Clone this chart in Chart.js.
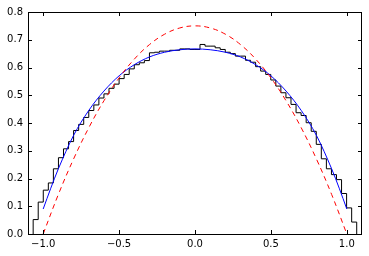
<!DOCTYPE html>
<html>
<head>
<meta charset="utf-8">
<script src="https://cdn.jsdelivr.net/npm/chart.js@4/dist/chart.umd.min.js"></script>
<style>
  body { margin: 0; background: #fff; }
</style>
</head>
<body>
<canvas id="chart" width="369" height="256"></canvas>
<script>
// axis ticks
const xTicks = [-1.0, -0.5, 0.0, 0.5, 1.0];
const yTicks = [0.0, 0.1, 0.2, 0.3, 0.4, 0.5, 0.6, 0.7, 0.8];

// histogram (black steps): first bin edge, bin width, heights
const histStart = -1.066;
const histBinWidth = 0.0333;
const histHeights = [
    0.052, 0.115, 0.158, 0.184, 0.235, 0.275, 0.307, 0.333, 0.373, 0.395,
    0.420, 0.445, 0.465, 0.490, 0.505, 0.525, 0.540, 0.560, 0.575, 0.595,
    0.610, 0.617, 0.625, 0.653, 0.655, 0.659, 0.659, 0.662, 0.662, 0.667,
    0.667, 0.665, 0.665, 0.683, 0.677, 0.677, 0.671, 0.665, 0.655, 0.650,
    0.641, 0.641, 0.626, 0.619, 0.603, 0.587, 0.575, 0.555, 0.533, 0.509,
    0.491, 0.467, 0.437, 0.427, 0.401, 0.370, 0.323, 0.271, 0.235, 0.214,
    0.196, 0.146, 0.094, 0.043
];

// smooth blue curve
const curveX = [-1.0, -0.95, -0.9, -0.8, -0.7, -0.6, -0.5, -0.4, -0.3, -0.2, -0.1, 0.0,
                0.1, 0.2, 0.3, 0.4, 0.5, 0.6, 0.7, 0.8, 0.9, 0.95, 1.0];
const curveY = [0.090, 0.165, 0.235, 0.355, 0.445, 0.515, 0.570, 0.610, 0.638, 0.655, 0.664, 0.667,
                0.664, 0.655, 0.638, 0.610, 0.570, 0.515, 0.445, 0.355, 0.235, 0.165, 0.090];

// red dashed parabola
const parabolaX = [-1.0, -0.9, -0.8, -0.7, -0.6, -0.5, -0.4, -0.3, -0.2, -0.1, 0.0,
                   0.1, 0.2, 0.3, 0.4, 0.5, 0.6, 0.7, 0.8, 0.9, 1.0];
const parabolaY = [0.0, 0.1425, 0.27, 0.3825, 0.48, 0.5625, 0.63, 0.6825, 0.72, 0.7425, 0.75,
                   0.7425, 0.72, 0.6825, 0.63, 0.5625, 0.48, 0.3825, 0.27, 0.1425, 0.0];

// step outline of the histogram, closed down to zero on both ends
const histPoints = [{ x: histStart, y: 0 }];
histHeights.forEach((h, i) => {
    histPoints.push({ x: histStart + i * histBinWidth, y: h });
});
const histEnd = histStart + histHeights.length * histBinWidth;
histPoints.push({ x: histEnd, y: histHeights[histHeights.length - 1] });
histPoints.push({ x: histEnd, y: 0 });

const fmt = v => (v < 0 ? '\u2212' : '') + Math.abs(v).toFixed(1);

// matplotlib-like box with inward ticks
const framePlugin = {
    id: 'frame',
    afterDatasetsDraw(chart) {
        const { ctx, chartArea: a, scales: { x, y } } = chart;
        ctx.save();
        ctx.strokeStyle = '#000';
        ctx.lineWidth = 1;
        ctx.beginPath();
        xTicks.forEach(v => {
            const px = Math.round(x.getPixelForValue(v)) + 0.5;
            ctx.moveTo(px, a.bottom); ctx.lineTo(px, a.bottom - 4);
            ctx.moveTo(px, a.top); ctx.lineTo(px, a.top + 4);
        });
        yTicks.forEach(v => {
            const py = Math.round(y.getPixelForValue(v)) + 0.5;
            ctx.moveTo(a.left, py); ctx.lineTo(a.left + 4, py);
            ctx.moveTo(a.right, py); ctx.lineTo(a.right - 4, py);
        });
        ctx.stroke();
        ctx.strokeRect(Math.round(a.left) + 0.5, Math.round(a.top) + 0.5,
                       Math.round(a.right - a.left) - 1, Math.round(a.bottom - a.top));
        ctx.restore();
    }
};

const tickFont = { family: '"DejaVu Sans", sans-serif', size: 10 };

new Chart(document.getElementById('chart'), {
    type: 'line',
    data: {
        datasets: [
            {
                data: parabolaX.map((x, i) => ({ x, y: parabolaY[i] })),
                borderColor: '#ff0000',
                borderWidth: 1,
                borderDash: [5, 4],
                pointRadius: 0,
                tension: 0.4,
                order: 0
            },
            {
                data: curveX.map((x, i) => ({ x, y: curveY[i] })),
                borderColor: '#0000ff',
                borderWidth: 1,
                pointRadius: 0,
                cubicInterpolationMode: 'monotone',
                order: 1
            },
            {
                data: histPoints,
                borderColor: '#000000',
                borderWidth: 1,
                pointRadius: 0,
                stepped: true,
                order: 2
            }
        ]
    },
    options: {
        responsive: false,
        animation: false,
        devicePixelRatio: 1,
        layout: { padding: { top: 12, right: 7, left: 0, bottom: 0 } },
        plugins: { legend: { display: false }, tooltip: { enabled: false } },
        scales: {
            x: {
                type: 'linear',
                min: -1.1,
                max: 1.1,
                afterBuildTicks: s => { s.ticks = xTicks.map(v => ({ value: v })); },
                afterFit: s => { s.height = 22; },
                grid: { display: false, drawTicks: false },
                border: { display: false },
                ticks: { callback: fmt, font: tickFont, color: '#000', padding: 4, maxRotation: 0, autoSkip: false }
            },
            y: {
                type: 'linear',
                min: 0,
                max: 0.8,
                afterBuildTicks: s => { s.ticks = yTicks.map(v => ({ value: v })); },
                afterFit: s => { s.width = 28; },
                grid: { display: false, drawTicks: false },
                border: { display: false },
                ticks: { callback: fmt, font: tickFont, color: '#000', padding: 5, autoSkip: false }
            }
        }
    },
    plugins: [framePlugin]
});
</script>
</body>
</html>
